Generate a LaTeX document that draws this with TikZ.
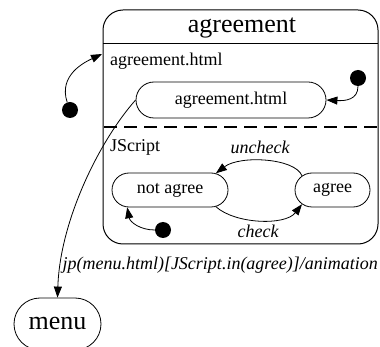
\documentclass[tikz,border=0pt]{standalone}
\usepackage{fontspec}
\setmainfont{Liberation Serif}
\usetikzlibrary{arrows.meta,shapes.misc}

\tikzset{
  state/.style={draw, rounded rectangle, minimum height=34pt, inner sep=0pt, line width=0.8pt},
  init/.style={circle, fill, minimum size=16pt, inner sep=0pt},
  trans/.style={line width=0.8pt, -{Triangle[length=11pt,width=8pt]}},
  lbl/.style={inner sep=0pt},
}

\begin{document}
\begin{tikzpicture}[x=1pt,y=-1pt,font=\fontsize{18}{20}\selectfont]
\useasboundingbox (0,0) rectangle (380,347);

% composite state
\draw[line width=1pt, rounded corners=20pt] (103,10) rectangle (378,244);
\draw[line width=1pt] (103,44) -- (378,44);
\draw[line width=2pt, dash pattern=on 13pt off 7pt] (104,127) -- (378,127);
\node (title) at (242,28) {\fontsize{26}{28}\selectfont agreement};
\coordinate (entry) at (102,54);

\node[lbl, anchor=west] (regA) at (110,61) {agreement.html};
\node[lbl, anchor=west] (regB) at (110,147) {JScript};

% states
\node[state, minimum width=190pt, minimum height=36pt] (page) at (231,100) {agreement.html};
\node[state, minimum width=116pt] (notagree) at (170,190) {not agree};
\node[state, minimum width=75pt] (agree) at (332.5,190) {agree};
\node[state, minimum width=87pt, minimum height=52pt, font=\fontsize{26}{28}\selectfont] (menu) at (57.5,324) {menu};

\node[init] (i0) at (70,110) {};
\node[init] (i1) at (358,78) {};
\node[init] (i2) at (163,230) {};

% transitions
\draw[trans] (i0.110) .. controls (58,75) and (85,62) .. (entry);
\draw[trans] (i1.south) .. controls (358,100) and (345,101) .. (page.east);
\draw[trans] (agree.155) .. controls (295,158) and (240,155) .. (notagree.20);
\draw[trans] (notagree.-20) .. controls (235,224) and (285,226) .. (agree.205);
\draw[trans] (i2.west) .. controls (140,230) and (130,222) .. (notagree.-158);
\draw[trans] (page.west) .. controls (100,140) and (60,220) .. (menu.north);

\node[lbl] (unc) at (260,147) {\itshape uncheck};
\node[lbl] (chk) at (258,231) {\itshape check};
\node[lbl, anchor=east] (guard) at (378,265) {\itshape jp(menu.html)[JScript.in(agree)]/animation};
\end{tikzpicture}
\end{document}
